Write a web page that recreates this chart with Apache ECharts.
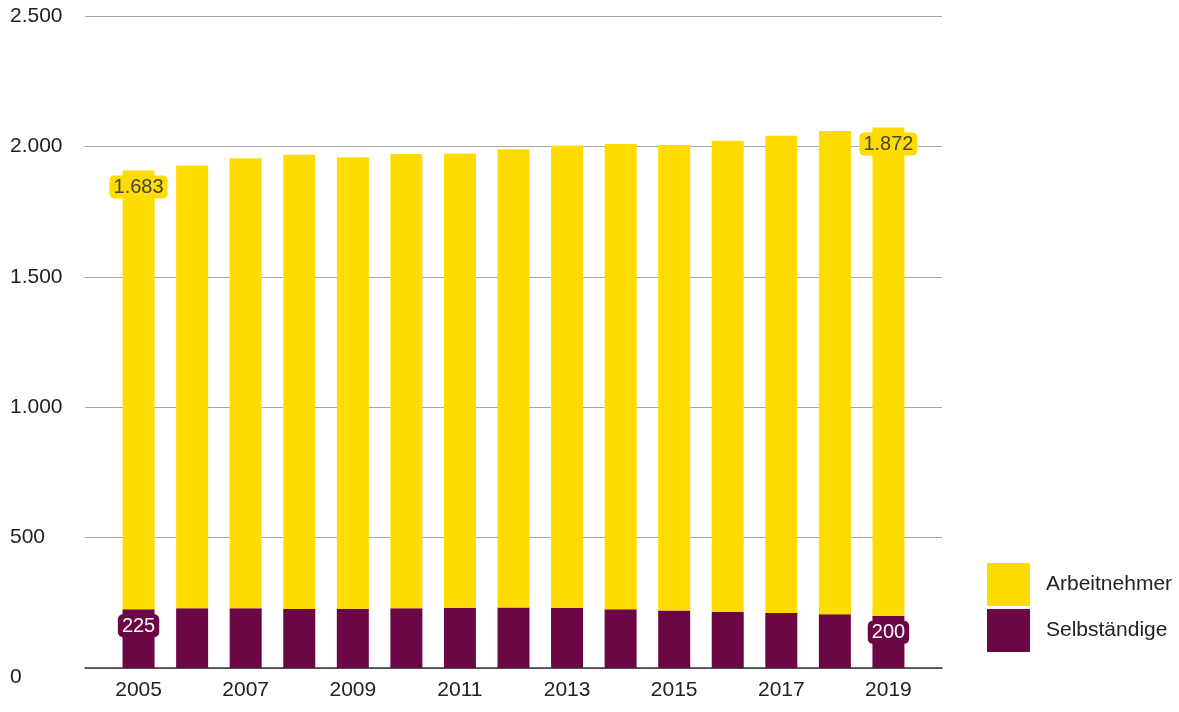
<!DOCTYPE html>
<html>
<head>
<meta charset="utf-8">
<script src="https://cdn.jsdelivr.net/npm/echarts@6/dist/echarts.min.js"></script>
<style>
html,body{margin:0;padding:0;background:#fff;}
#chart{width:1179px;height:712px;}
</style>
</head>
<body>
<div id="chart"></div>
<script>
const years = [2005,2006,2007,2008,2009,2010,2011,2012,2013,2014,2015,2016,2017,2018,2019];
const arbeitnehmer = [1683,1698,1726,1742,1731,1742,1742,1757,1772,1784,1785,1806,1830,1853,1872];
const selbstaendige = [225,229,229,226,227,229,231,232,231,225,220,216,211,206,200];
const yTicks = [0,500,1000,1500,2000,2500];
const seriesNames = ['Arbeitnehmer','Selbständige'];

const YELLOW = '#FFDC00';
const PURPLE = '#6C0745';
const FONT = '"Liberation Sans", Arial, sans-serif';

function fmt(v){ return String(v).replace(/\B(?=(\d{3})+(?!\d))/g,'.'); }

// half-category padding at both ends (empty slots)
const categories = [''].concat(years.map(String)).concat(['']);

function buildData(values, color, textColor){
  const out = [{value:'-'}];
  values.forEach((v,i)=>{
    const item = {value:v};
    if(i===0 || i===values.length-1){
      item.label = {
        show:true, position:'insideTop', distance:5,
        formatter: fmt(v),
        fontSize:20, fontFamily:FONT, color:textColor,
        backgroundColor:color, borderRadius:5, padding:[2,4,1,4]
      };
    }
    out.push(item);
  });
  out.push({value:'-'});
  return out;
}

const chart = echarts.init(document.getElementById('chart'));
chart.setOption({
  animation:false,
  backgroundColor:'#fff',
  grid:{left:85,right:237,top:16,bottom:44,containLabel:false},
  xAxis:{
    type:'category', data:categories, boundaryGap:false,
    splitLine:{show:false},
    axisTick:{show:false},
    axisLine:{show:true,lineStyle:{color:'#333',width:1.5}},
    axisLabel:{
      interval:0, fontSize:21, fontFamily:FONT, color:'#222', margin:12,
      formatter:function(v){ const y = Number(v); return (v!=='' && (y-years[0])%2===0) ? v : ''; }
    }
  },
  yAxis:{
    type:'value', min:yTicks[0], max:yTicks[yTicks.length-1], interval:500,
    axisLine:{show:false}, axisTick:{show:false},
    splitLine:{lineStyle:{color:'#a6a6a6',width:1}},
    axisLabel:{
      align:'left', margin:75, fontSize:21, fontFamily:FONT, color:'#222',
      formatter:function(v){ return v===0 ? '{z|0}' : fmt(v); },
      rich:{z:{fontSize:21,fontFamily:FONT,color:'#222',padding:[18,0,0,0]}}
    }
  },
  legend:{
    orient:'vertical', left:987, top:563, padding:0, itemWidth:43, itemHeight:43, itemGap:3,
    icon:'rect', data:seriesNames,
    textStyle:{fontSize:21,fontFamily:FONT,color:'#222',padding:[0,0,0,11]}
  },
  series:[
    {name:seriesNames[1], type:'bar', stack:'t', barWidth:32, itemStyle:{color:PURPLE},
     data:buildData(selbstaendige, PURPLE, '#fff')},
    {name:seriesNames[0], type:'bar', stack:'t', barWidth:32, itemStyle:{color:YELLOW},
     data:buildData(arbeitnehmer, YELLOW, '#444')}
  ]
});
</script>
</body>
</html>
